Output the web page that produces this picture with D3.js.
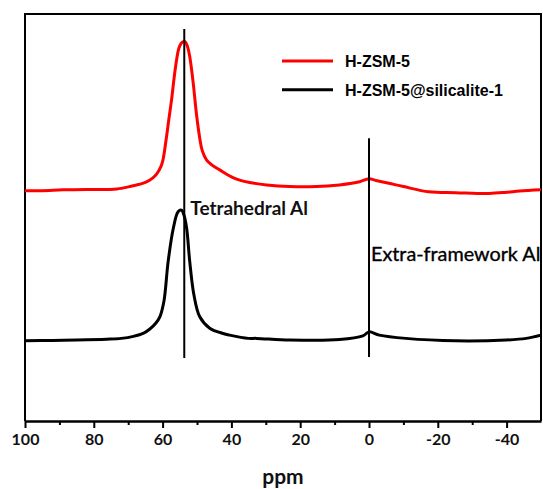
<!DOCTYPE html>
<html>
<head>
<meta charset="utf-8">
<script src="https://cdn.jsdelivr.net/npm/d3@7"></script>
<style>
    body { margin: 0; background: #fff; }
    svg { display: block; }
</style>
</head>
<body>
<div id="chart"></div>
<script>
// 27Al MAS NMR spectra (ppm, intensity a.u.)
const ppmRed = [100, 95, 89, 82, 76, 73.3, 69.5, 67, 65, 63, 61.7, 60.5, 59.9, 59, 58.2, 57.4, 56.4, 55.5, 55, 54.2, 53.5, 52.8, 52.1, 51.1, 50.1, 49.2, 48.5, 47.2, 45.5, 43.4, 40, 37.6, 34.7, 29.8, 23, 15.3, 8.6, 5, 2.7, 0, -2, -5.8, -10, -17.4, -25.2, -34.9, -40, -43.8, -50]
const valRed = [56.6, 56.6, 56.8, 56.9, 56.9, 57.0, 57.6, 58.1, 58.6, 59.6, 60.7, 62.5, 64.1, 69.0, 74.0, 78.9, 86.0, 90.8, 92.2, 93.1, 93.2, 92.1, 89.5, 83.0, 75.0, 69.5, 66.5, 64.1, 62.8, 61.7, 60.0, 59.2, 58.6, 58.0, 57.6, 57.6, 58.0, 58.4, 58.8, 59.5, 59.1, 58.4, 57.6, 56.3, 56.1, 55.9, 56.2, 56.5, 56.8]

const ppmBlack = [100, 92, 85, 76.3, 72, 68.5, 65.5, 63.7, 62, 60.8, 59.6, 58.4, 56.9, 55.5, 54.5, 53.8, 53.0, 52.1, 50.9, 49.2, 46.3, 42.4, 40.5, 35.1, 32.7, 23, 8.6, 1.8, 0, -3, -10.7, -25.2, -39.9, -45.7, -50]
const valBlack = [19.7, 19.8, 19.9, 20.1, 20.3, 20.8, 21.6, 22.6, 24.0, 25.6, 29.5, 39.1, 47.3, 51.4, 51.8, 50.6, 47.3, 39.1, 31.0, 25.6, 22.8, 21.5, 21.1, 20.3, 20.3, 19.9, 20.0, 20.9, 21.9, 21.1, 20.3, 19.7, 19.9, 20.3, 21.1]

const seriesNames = ['H-ZSM-5', 'H-ZSM-5@silicalite-1']
const seriesColors = ['#ff0000', '#000000']

const xTicks = [100, 80, 60, 40, 20, 0, -20, -40]
const xMinorTicks = [90, 70, 50, 30, 10, -10, -30]

// 标注线 (ppm, 上端, 下端 in a.u.)
const markerPpm = [53.7, 0]
const markerTop = [96.3, 69.5]
const markerBottom = [15.5, 15.7]
const markerLabels = ['Tetrahedral Al', 'Extra-framework Al']

const width = 543
const height = 489
const margin = { top: 14, right: 2, bottom: 68, left: 25 }

const svg = d3.select('#chart').append('svg')
    .attr('width', width)
    .attr('height', height)

const x = d3.scaleLinear()
    .domain([100, -50])
    .range([margin.left, width - margin.right])

const y = d3.scaleLinear()
    .domain([0, 100])
    .range([height - margin.bottom, margin.top])

// 边框 (左 上 右)
svg.append('path')
    .attr('d', `M${x(100)},${y(0)}V${y(100)}H${x(-50)}V${y(0)}`)
    .attr('fill', 'none')
    .attr('stroke', '#000')
    .attr('stroke-width', 2)

// 曲线
const line = d3.line()
    .x(d => x(d[0]))
    .y(d => y(d[1]))
    .curve(d3.curveCatmullRom.alpha(0.5))

const series = [
    d3.zip(ppmRed, valRed),
    d3.zip(ppmBlack, valBlack),
]

series.forEach((data, i) => {
    svg.append('path')
        .datum(data)
        .attr('fill', 'none')
        .attr('stroke', seriesColors[i])
        .attr('stroke-width', 3)
        .attr('stroke-linejoin', 'round')
        .attr('d', line)
})

// 竖线
markerPpm.forEach((p, i) => {
    svg.append('line')
        .attr('x1', x(p)).attr('x2', x(p))
        .attr('y1', y(markerTop[i])).attr('y2', y(markerBottom[i]))
        .attr('stroke', '#000')
        .attr('stroke-width', 2)
})

svg.append('text')
    .attr('x', x(markerPpm[0]) + 6)
    .attr('y', y(50.6))
    .attr('font-family', 'Lato')
    .attr('font-weight', 'bold')
    .attr('font-size', 19)
    .attr('fill', '#111')
    .text(markerLabels[0])

svg.append('text')
    .attr('x', x(markerPpm[1]) + 2)
    .attr('y', y(39.2))
    .attr('font-family', 'Lato')
    .attr('font-size', 19.8)
    .attr('fill', '#000')
    .attr('stroke', '#000')
    .attr('stroke-width', 0.35)
    .text(markerLabels[1])

// x 轴
const axis = svg.append('g')
    .attr('transform', `translate(0,${y(0)})`)

axis.append('g')
    .call(d3.axisBottom(x).tickValues(xMinorTicks).tickSize(4).tickFormat(''))
    .call(g => g.selectAll('.tick line').attr('stroke-width', 2))
    .call(g => g.select('.domain').remove())

axis.append('g')
    .call(d3.axisBottom(x).tickValues(xTicks).tickSizeInner(7).tickSizeOuter(0).tickPadding(6)
        .tickFormat(d => String(d)))
    .call(g => g.select('.domain').attr('stroke-width', 2.5))
    .call(g => g.selectAll('.tick line').attr('stroke-width', 2))
    .call(g => g.selectAll('.tick text')
        .attr('font-family', 'Lato')
        .attr('font-weight', 'bold')
        .attr('font-size', 16)
        .attr('fill', '#111'))

svg.append('text')
    .attr('x', x(25))
    .attr('y', height - 5)
    .attr('text-anchor', 'middle')
    .attr('font-family', 'Lato')
    .attr('font-weight', 'bold')
    .attr('font-size', 21)
    .attr('fill', '#111')
    .text('ppm')

// 图例
const legend = svg.append('g')
    .attr('transform', 'translate(282,61)')

seriesNames.forEach((name, i) => {
    const row = legend.append('g').attr('transform', `translate(0,${i * 28.7})`)
    row.append('line')
        .attr('x1', 0).attr('x2', 51)
        .attr('stroke', seriesColors[i])
        .attr('stroke-width', 3)
    row.append('text')
        .attr('x', 63)
        .attr('y', 6)
        .attr('font-family', 'Liberation Sans')
        .attr('font-weight', 'bold')
        .attr('font-size', 16)
        .attr('fill', '#000')
        .text(name)
})
</script>
</body>
</html>
